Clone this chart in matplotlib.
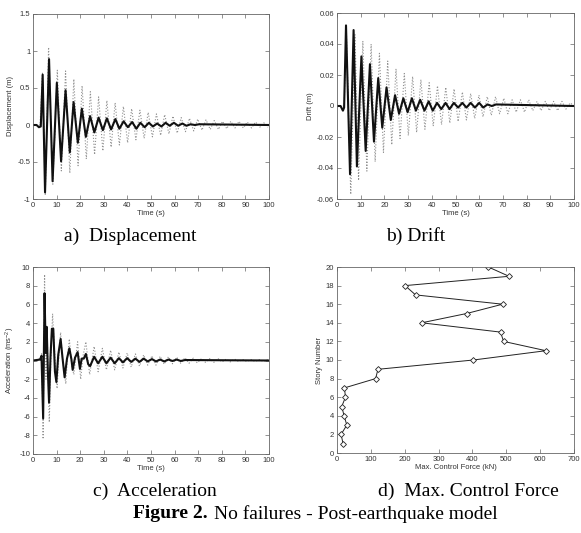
import numpy as np
import matplotlib
matplotlib.use('Agg')
import matplotlib.pyplot as plt

plt.rcParams['axes.unicode_minus'] = False
plt.rcParams['font.family'] = ['Liberation Sans', 'DejaVu Sans']
plt.rcParams['mathtext.default'] = 'regular'

# displacement (m): extrema, (time s, value)
disp_ctrl = [(0, 0), (1.5, 0), (2.5, -0.03), (3.3, -0.02), (4.1, 0.68), (5.1, -0.91),
             (6.8, 0.89), (8.3, -0.76), (10.1, 0.57), (11.9, -0.49), (13.8, 0.47),
             (15.6, -0.37), (17.2, 0.31), (19.0, -0.24), (20.7, 0.22), (22.4, -0.16),
             (24.2, 0.12), (26.0, -0.10), (27.8, 0.10), (29.6, -0.07), (31.3, 0.09),
             (33.1, -0.06), (34.9, 0.08), (36.6, -0.05), (38.4, 0.05), (40.2, -0.03),
             (42.0, 0.04), (43.8, -0.05), (45.5, 0.03), (47.3, -0.03), (49.1, 0.03),
             (50.8, -0.02), (52.6, 0.02), (54.4, -0.02), (56.2, 0.03), (57.9, -0.01),
             (59.7, 0.03), (61.5, -0.01), (63.3, 0.02), (65.0, -0.01), (66.8, 0.01),
             (68.6, 0.0), (70.4, 0.01), (100, 0)]
disp_unc = [(0, 0), (3.0, 0), (4.0, 0.70), (5.2, -0.95), (6.6, 1.05), (8.4, -0.80),
            (10.3, 0.74), (12.0, -0.62), (13.8, 0.73), (15.6, -0.65), (17.3, 0.62),
            (19.1, -0.55), (20.8, 0.53), (22.6, -0.46), (24.3, 0.45), (26.1, -0.40),
            (27.8, 0.38), (29.6, -0.35), (31.3, 0.33), (33.1, -0.30), (34.8, 0.30),
            (36.6, -0.27), (38.3, 0.25), (40.1, -0.24), (41.8, 0.22), (43.6, -0.20),
            (45.3, 0.20), (47.1, -0.18), (48.8, 0.17), (50.6, -0.16), (52.3, 0.15),
            (54.1, -0.14), (55.8, 0.14), (57.6, -0.12), (59.3, 0.12), (61.1, -0.11),
            (62.8, 0.10), (64.6, -0.09), (66.3, 0.09), (68.1, -0.08), (69.8, 0.08),
            (71.6, -0.07), (73.3, 0.07), (75.1, -0.06), (76.8, 0.06), (78.6, -0.06),
            (80.3, 0.05), (82.1, -0.05), (83.8, 0.05), (85.6, -0.04), (87.3, 0.05),
            (89.1, -0.04), (90.8, 0.04), (92.6, -0.04), (94.3, 0.04), (96.1, -0.03),
            (97.8, 0.03), (99.6, -0.03)]

# drift (m)
drift_ctrl = [(0, 0), (1.5, 0), (2.5, -0.003), (3.0, -0.001), (3.8, 0.052), (5.5, -0.044),
              (7.0, 0.049), (8.4, -0.039), (10.3, 0.032), (12.1, -0.029), (13.9, 0.027),
              (15.6, -0.023), (17.4, 0.018), (19.1, -0.014), (20.9, 0.012), (22.7, -0.009),
              (24.5, 0.007), (26.2, -0.005), (28.0, 0.005), (29.8, -0.004), (31.6, 0.005),
              (33.3, -0.003), (35.1, 0.004), (36.9, -0.003), (38.7, 0.003), (40.4, -0.003),
              (42.2, 0.002), (44.0, -0.002), (45.8, 0.002), (47.5, -0.002), (49.3, 0.002),
              (51.1, -0.001), (52.9, 0.002), (54.6, -0.001), (56.4, 0.002), (58.2, -0.001),
              (60.0, 0.002), (61.7, -0.001), (63.5, 0.001), (65.3, 0.0), (67.1, 0.001),
              (100, 0)]
drift_unc = [(0, 0), (3.0, 0), (4.0, 0.045), (5.8, -0.057), (7.6, 0.046), (9.1, -0.048),
             (10.9, 0.042), (12.6, -0.042), (14.4, 0.040), (16.1, -0.036), (17.9, 0.034),
             (19.6, -0.030), (21.4, 0.029), (23.1, -0.025), (24.9, 0.024), (26.6, -0.021),
             (28.4, 0.021), (30.1, -0.019), (31.9, 0.019), (33.6, -0.017), (35.4, 0.017),
             (37.1, -0.015), (38.9, 0.015), (40.6, -0.013), (42.4, 0.013), (44.1, -0.012),
             (45.9, 0.012), (47.6, -0.011), (49.4, 0.011), (51.1, -0.010), (52.9, 0.009),
             (54.6, -0.009), (56.4, 0.008), (58.1, -0.008), (59.9, 0.007), (61.6, -0.007),
             (63.4, 0.006), (65.1, -0.006), (66.9, 0.006), (68.6, -0.005), (70.4, 0.005),
             (72.1, -0.005), (73.9, 0.004), (75.6, -0.004), (77.4, 0.004), (79.1, -0.004),
             (80.9, 0.004), (82.6, -0.003), (84.4, 0.003), (86.1, -0.003), (87.9, 0.003),
             (89.6, -0.003), (91.4, 0.003), (93.1, -0.003), (94.9, 0.003), (96.6, -0.002),
             (98.4, 0.002), (100, 0)]

# acceleration (m/s^2)
acc_ctrl = [(0, 0), (3.0, 0.1), (3.6, 0.5), (4.3, -6.2), (4.9, 7.2), (5.4, 0.8), (5.8, 3.6),
            (6.3, -1.2), (6.8, -4.5), (7.4, 0.3), (8.0, 3.4), (8.6, 3.4), (9.3, -1.2),
            (9.9, -2.3), (10.7, 0.6), (11.7, 2.3), (12.5, 0.3), (13.4, -1.8), (14.4, 0.2),
            (15.4, 1.3), (16.3, 0.1), (16.8, -1.0), (17.8, 0.3), (18.9, 0.9), (19.9, -0.9),
            (20.6, 0.2), (21.5, 0.2), (22.4, 0.7), (23.4, -0.4), (24.2, -0.6), (25.9, 0.4),
            (27.6, -0.3), (29.4, 0.4), (31.1, -0.3), (32.9, 0.3), (34.6, -0.3), (36.4, 0.25),
            (38.1, -0.2), (39.9, 0.25), (41.6, -0.15), (43.4, 0.2), (45.1, -0.15), (46.9, 0.2),
            (48.6, -0.1), (50.4, 0.15), (52.1, -0.1), (53.9, 0.1), (55.6, -0.1), (57.4, 0.1),
            (59.1, -0.05), (60.9, 0.1), (62.6, -0.05), (64.4, 0.05), (100, 0)]
acc_unc = [(0, 0), (3.0, 0.2), (3.7, 0.8), (4.3, -8.4), (4.9, 9.2), (5.5, -2.0), (6.0, 3.0),
           (6.9, -6.6), (7.6, 0.5), (8.3, 5.0), (9.0, 1.5), (10.2, -3.0), (11.0, 0.5),
           (11.7, 3.0), (12.5, 0.2), (13.9, -2.5), (14.6, 0.3), (15.4, 2.3), (16.4, -0.5),
           (17.3, -1.5), (18.9, 2.0), (20.2, -2.0), (21.2, 0.5), (22.4, 2.0), (24.0, -1.5),
           (25.9, 1.5), (27.6, -1.2), (29.4, 1.3), (31.1, -1.0), (32.9, 1.1), (34.6, -1.0),
           (36.4, 0.9), (38.1, -0.8), (39.9, 0.8), (41.6, -0.7), (43.4, 0.7), (45.1, -0.6),
           (46.9, 0.6), (48.6, -0.5), (50.4, 0.5), (52.1, -0.5), (53.9, 0.45), (55.6, -0.4),
           (57.4, 0.4), (59.1, -0.35), (60.9, 0.35), (62.6, -0.3), (64.4, 0.3), (66.1, -0.3),
           (67.9, 0.25), (69.6, -0.25), (71.4, 0.2), (73.1, -0.2), (74.9, 0.2), (76.6, -0.2),
           (78.4, 0.2), (80.1, -0.15), (81.9, 0.15), (83.6, -0.15), (85.4, 0.15), (87.1, -0.1),
           (88.9, 0.1), (90.6, -0.1), (92.4, 0.1), (94.1, -0.1), (95.9, 0.1), (97.6, -0.1),
           (99.4, 0.1)]

# max control force per story
stories = list(range(1, 21))
max_force = [18, 12, 29, 21, 14, 25, 22, 114, 121, 403,
             617, 492, 483, 250, 383, 489, 232, 201, 508, 447]

W, H = 581, 533
fig = plt.figure(figsize=(W / 100, H / 100), dpi=100)


def box(l, t, r, b):
    # pixel box -> axes
    return fig.add_axes([l / W, (H - b) / H, (r - l) / W, (b - t) / H])


def style(ax):
    for s in ax.spines.values():
        s.set_color('#666666')
        s.set_linewidth(0.6)
    ax.tick_params(direction='in', length=3, width=0.5, colors='#666666',
                   labelcolor='#333333', labelsize=5.5, top=True, right=True, pad=2)


def series(ax, ctrl, unc):
    tu, yu = zip(*unc)
    tc, yc = zip(*ctrl)
    ax.plot(tu, yu, ':', color='#909090', lw=0.8)
    ax.plot(tc, yc, '-', color='#111111', lw=1.5)
    ax.set_xlim(0, 100)
    ax.set_xticks(np.arange(0, 101, 10))
    ax.set_xlabel('Time (s)', fontsize=5.5, color='#333333', labelpad=1)


ax1 = box(33, 14, 269, 199)
series(ax1, disp_ctrl, disp_unc)
ax1.set_ylim(-1, 1.5)
ax1.set_yticks([-1, -0.5, 0, 0.5, 1, 1.5])
ax1.set_yticklabels(['-1', '-0.5', '0', '0.5', '1', '1.5'])
ax1.set_ylabel('Displacement (m)', fontsize=5.5, color='#333333', labelpad=2)
style(ax1)

ax2 = box(337, 13, 574, 199)
series(ax2, drift_ctrl, drift_unc)
ax2.set_ylim(-0.06, 0.06)
ax2.set_yticks([-0.06, -0.04, -0.02, 0, 0.02, 0.04, 0.06])
ax2.set_yticklabels(['-0.06', '-0.04', '-0.02', '0', '0.02', '0.04', '0.06'])
ax2.set_ylabel('Drift (m)', fontsize=5.5, color='#333333', labelpad=2)
style(ax2)

ax3 = box(33, 267, 269, 454)
series(ax3, acc_ctrl, acc_unc)
ax3.set_ylim(-10, 10)
ax3.set_yticks(np.arange(-10, 11, 2))
ax3.set_ylabel('Acceleration (ms$^{-2}$)', fontsize=5.5, color='#333333', labelpad=2)
style(ax3)

ax4 = box(337, 267, 574, 453)
ax4.plot(max_force, stories, '-', color='#222222', lw=0.7, marker='D', ms=3.0,
         mfc='white', mec='#222222', mew=0.6)
ax4.set_xlim(0, 700)
ax4.set_ylim(0, 20)
ax4.set_xticks(np.arange(0, 701, 100))
ax4.set_yticks(np.arange(0, 21, 2))
ax4.set_xlabel('Max. Control Force (kN)', fontsize=5.5, color='#333333', labelpad=1)
ax4.set_ylabel('Story Number', fontsize=5.5, color='#333333', labelpad=2)
style(ax4)

serif = ['Liberation Serif', 'DejaVu Serif']
cap = dict(fontsize=14, family=serif, ha='center', va='center')
fig.text(130 / W, 1 - 236 / H, 'a)  Displacement', **cap)
fig.text(416 / W, 1 - 236 / H, 'b) Drift', **cap)
fig.text(155 / W, 1 - 491 / H, 'c)  Acceleration', **cap)
fig.text(468 / W, 1 - 491 / H, 'd)  Max. Control Force', **cap)
fig.text(208 / W, 1 - 514 / H, 'Figure 2.', fontsize=14, fontweight='bold',
         family=serif, ha='right', va='center')
fig.text(214 / W, 1 - 514 / H, 'No failures - Post-earthquake model', fontsize=14,
         family=serif, ha='left', va='center')

fig.savefig('out.png', dpi=100)
